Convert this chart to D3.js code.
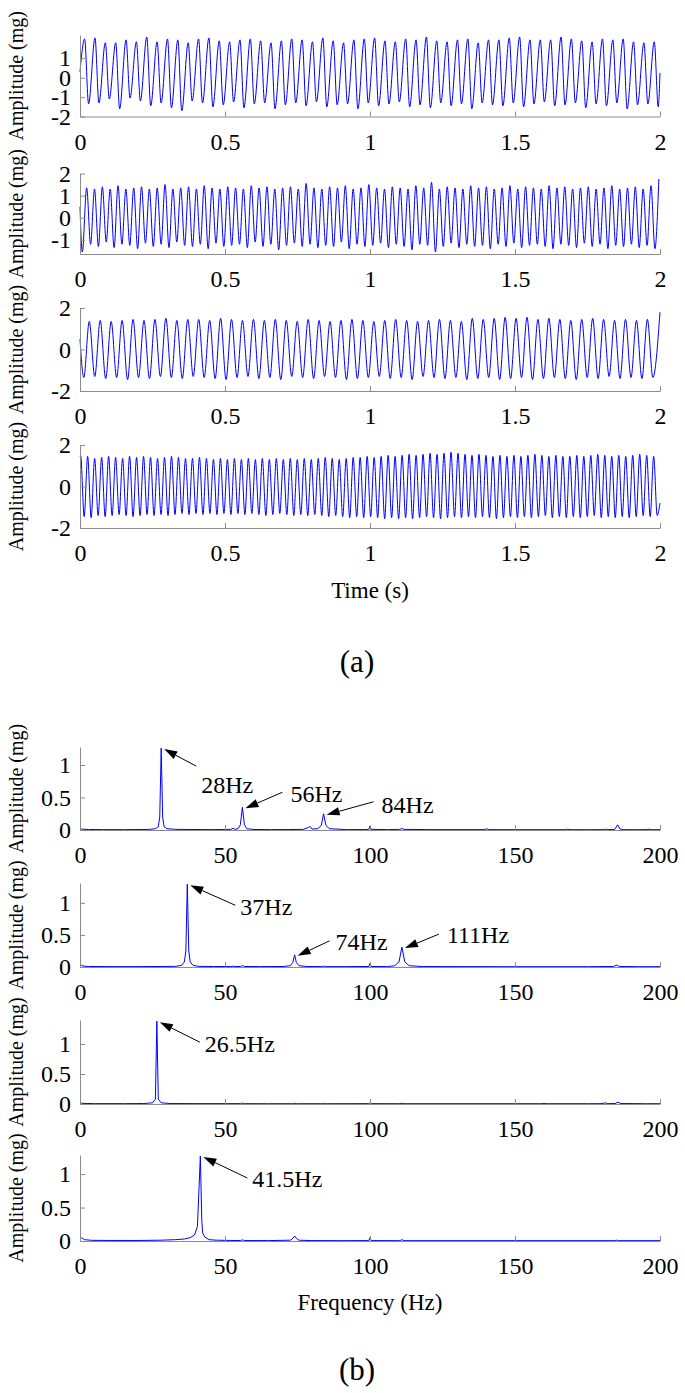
<!DOCTYPE html>
<html><head><meta charset="utf-8">
<script src="https://cdn.jsdelivr.net/npm/d3@7"></script>
<style>
body{margin:0;background:#fff}
svg{display:block}
text{font-family:"Liberation Serif","Times New Roman",serif;fill:#000}
</style>
</head><body>
<svg id="c" width="685" height="1393"></svg>
<script>
// ---------------- DATA ----------------
// time-domain signals: frequency (Hz), time of first peak (s), trough position relative to peak (in periods)
const sig1Freq = 28,   sig1T0 = 0.016,  sig1TroughFrac = 0.38;
const sig2Freq = 37,   sig2T0 = 0.023,  sig2TroughFrac = 0.5;
const sig3Freq = 26.5, sig3T0 = 0.032,  sig3TroughFrac = -0.5;
const sig4Freq = 41.5, sig4T0 = 0.0023, sig4TroughFrac = 0.5;

const sig1Peaks = [2.0,2.05,1.8,1.8,1.95,1.85,2.1,1.85, 2.0,1.95,1.8,2.0,2.05,1.9,1.85,1.95, 2.0,1.9,1.8,1.9,2.0,1.95,1.85,2.05,
  1.9,1.8,1.95,2.0,2.05,1.9,1.85,2.0, 1.95,2.1,1.9,1.85,1.95,2.0,1.8,1.95, 1.95,2.05,2.1,1.95,1.95,1.95,2.1,2.0, 1.9,1.85,2.0,1.95,2.0,1.85,1.8,1.85];
const sig1Troughs = [-1.35,-1.3,-1.1,-1.6,-1.05,-1.2,-1.45,-1.3, -1.55,-1.7,-1.2,-1.3,-1.5,-1.4,-1.25,-1.55, -1.35,-1.3,-1.6,-1.4,-1.3,-1.45,-1.25,-1.5,
  -1.4,-1.35,-1.6,-1.3,-1.45,-1.35,-1.25,-1.5, -1.4,-1.55,-1.3,-1.45,-1.35,-1.6,-1.3,-1.4, -1.45,-1.3,-1.5,-1.35,-1.25,-1.45,-1.4,-1.3, -1.55,-1.35,-1.45,-1.3,-1.6,-1.4,-1.35,-1.5];
const sig1Lead = [[0,0.3]], sig1Tail = [[2,0.25]];

const sig2Peaks = [1.35,1.3,1.4,1.3,1.45,1.3,1.35,1.4,1.3,1.35, 1.5,1.3,1.35,1.4,1.3,1.45,1.35,1.3,1.4,1.35, 1.3,1.45,1.35,1.4,1.3,1.35,1.4,1.3,1.55,1.35,
  1.3,1.4,1.35,1.45,1.3,1.35,1.5,1.35,1.3,1.4, 1.35,1.3,1.45,1.35,1.6,1.3,1.4,1.35,1.3,1.45, 1.35,1.4,1.3,1.35,1.45,1.3,1.4,1.35,1.3,1.45,
  1.35,1.4,1.3,1.35,1.4,1.3,1.35,1.45,1.3,1.35, 1.4,1.3,1.45,1.75];
const sig2Troughs = [-1.2,-1.3,-1.1,-1.35,-1.2,-1.25,-1.4,-1.15,-1.3,-1.2, -1.35,-1.1,-1.25,-1.3,-1.2,-1.4,-1.15,-1.3,-1.25,-1.2,
  -1.35,-1.1,-1.3,-1.2,-1.45,-1.25,-1.15,-1.3,-1.2,-1.35, -1.25,-1.3,-1.1,-1.4,-1.2,-1.3,-1.25,-1.15,-1.35,-1.2,
  -1.3,-1.45,-1.2,-1.25,-1.55,-1.3,-1.15,-1.35,-1.2,-1.3, -1.25,-1.4,-1.2,-1.3,-1.15,-1.35,-1.25,-1.2,-1.3,-1.4,
  -1.2,-1.25,-1.35,-1.15,-1.3,-1.2,-1.4,-1.25,-1.3,-1.2, -1.35,-1.25,-1.4];
const sig2Lead = [[0,0.5],[0.008,-1.55]], sig2Tail = [];

const sig3Peaks = [1.35,1.4,1.35,1.4,1.45,1.4,1.45,1.5,1.4,1.45, 1.45,1.4,1.5,1.45,1.4,1.45,1.4,1.45,1.4,1.35,
  1.45,1.4,1.35,1.4,1.45,1.4,1.35,1.4,1.45,1.4, 1.35,1.4,1.45,1.4,1.35,1.5,1.45,1.5,1.55,1.5, 1.55,1.45,1.5,1.45,1.4,1.45,1.5,1.45,1.4,1.45, 1.4,1.45];
const sig3Troughs = [-1.35,-1.3,-1.4,-1.35,-1.45,-1.35,-1.4,-1.3,-1.35,-1.4, -1.3,-1.35,-1.4,-1.45,-1.35,-1.3,-1.4,-1.35,-1.45,-1.3,
  -1.35,-1.4,-1.3,-1.35,-1.45,-1.4,-1.35,-1.3,-1.4,-1.35, -1.45,-1.3,-1.35,-1.4,-1.35,-1.45,-1.4,-1.35,-1.45,-1.4,
  -1.35,-1.45,-1.4,-1.35,-1.4,-1.45,-1.35,-1.4,-1.3,-1.4, -1.35,-1.4,-1.35];
const sig3Lead = [[0,0.5]], sig3Tail = [[2,1.8]];

const sig4Peaks = [1.5,1.45,1.35,1.4,1.45,1.4,1.35,1.45,1.4,1.45, 1.4,1.35,1.4,1.45,1.4,1.35,1.35,1.4,1.35,1.3,
  1.35,1.3,1.35,1.3,1.35,1.3,1.35,1.3,1.35,1.3, 1.35,1.3,1.35,1.3,1.35,1.4,1.35,1.3,1.35,1.4,
  1.4,1.45,1.4,1.45,1.5,1.45,1.5,1.55,1.5,1.55, 1.6,1.55,1.6,1.65,1.6,1.55,1.5,1.55,1.5,1.45,
  1.5,1.45,1.5,1.45,1.5,1.55,1.5,1.45,1.5,1.45, 1.45,1.5,1.45,1.5,1.55,1.5,1.45,1.5,1.45,1.5, 1.55,1.5,1.45];
const sig4Troughs = [-1.45,-1.5,-1.4,-1.45,-1.4,-1.35,-1.4,-1.45,-1.4,-1.35, -1.4,-1.35,-1.4,-1.35,-1.3,-1.35,-1.3,-1.35,-1.3,-1.35,
  -1.3,-1.35,-1.3,-1.35,-1.3,-1.35,-1.4,-1.35,-1.3,-1.35, -1.4,-1.35,-1.4,-1.35,-1.4,-1.45,-1.4,-1.45,-1.5,-1.45,
  -1.5,-1.45,-1.5,-1.55,-1.5,-1.55,-1.5,-1.55,-1.5,-1.45, -1.5,-1.55,-1.5,-1.45,-1.5,-1.45,-1.5,-1.45,-1.5,-1.55,
  -1.5,-1.45,-1.5,-1.45,-1.5,-1.45,-1.4,-1.5,-1.45,-1.5, -1.45,-1.5,-1.45,-1.4,-1.5,-1.45,-1.5,-1.45,-1.5,-1.45, -1.4,-1.45,-1.4];
const sig4Lead = [[0,1.45]], sig4Tail = [[2,-0.8]];

const timeTicksX = [0,0.5,1,1.5,2];
const sig1YTicks = [-2,-1,0,1];
const sig2YTicks = [-1,0,1,2];
const sig3YTicks = [-2,0,2];
const sig4YTicks = [-2,0,2];

// spectra: [frequency Hz, amplitude mg]
const spec1 = [[0,0.02],[1,0.012],[3,0.008],[8,0.006],[15,0.006],[20,0.007],[24,0.01],[26,0.02],[27,0.05],[27.5,0.2],[28,1.26],[28.5,0.2],[29,0.05],[30,0.02],[33,0.01],[40,0.007],[46,0.006],[50,0.008],[52,0.01],[52.8,0.025],[53.5,0.01],[54.5,0.02],[55.3,0.08],[56,0.35],[56.7,0.08],[57.5,0.02],[60,0.008],[66,0.006],[72,0.007],[77,0.01],[78.8,0.04],[79.4,0.055],[80,0.015],[82,0.02],[83.2,0.07],[84,0.25],[84.8,0.07],[86,0.02],[92,0.006],[98,0.007],[99.6,0.01],[100,0.06],[100.4,0.01],[106,0.006],[110.3,0.01],[111,0.022],[111.7,0.01],[120,0.006],[130,0.006],[139.3,0.006],[140.2,0.018],[141,0.006],[150,0.005],[160,0.005],[167.4,0.005],[168.2,0.012],[169,0.005],[176,0.005],[180.8,0.006],[181.4,0.014],[182,0.006],[184.4,0.01],[185.4,0.08],[186.2,0.015],[187.5,0.006],[192,0.005],[195.5,0.006],[196.2,0.012],[197,0.005],[200,0.005]];
const spec2 = [[0,0.04],[1,0.015],[3,0.008],[10,0.006],[20,0.006],[28,0.008],[33,0.01],[35,0.025],[36,0.08],[36.5,0.25],[37,1.29],[37.5,0.25],[38,0.08],[39,0.025],[41,0.01],[46,0.007],[50,0.008],[52,0.006],[52.8,0.014],[53.5,0.006],[55.3,0.008],[56,0.022],[56.7,0.008],[62,0.006],[70,0.008],[72.5,0.02],[73.4,0.07],[74,0.19],[74.6,0.07],[75.5,0.02],[78,0.008],[83.3,0.006],[84,0.014],[84.7,0.006],[92,0.006],[99.6,0.008],[100,0.055],[100.4,0.008],[106,0.006],[108.5,0.02],[110,0.08],[111,0.31],[112,0.08],[113.5,0.02],[118,0.007],[130,0.006],[148,0.005],[160,0.005],[175,0.005],[184,0.008],[185,0.03],[186,0.008],[193,0.005],[200,0.005]];
const spec3 = [[0,0.02],[1,0.01],[5,0.006],[15,0.006],[22,0.008],[25,0.02],[26,0.08],[26.5,1.38],[27,0.08],[28,0.02],[31,0.008],[40,0.006],[50,0.006],[55.3,0.006],[56,0.015],[56.7,0.006],[65,0.005],[73.3,0.005],[74,0.012],[74.7,0.005],[83.3,0.005],[84,0.01],[84.7,0.005],[99.6,0.006],[100,0.02],[100.4,0.006],[110.3,0.005],[111,0.012],[111.7,0.005],[130,0.005],[150,0.005],[159.3,0.005],[160,0.01],[160.7,0.005],[175,0.005],[180,0.006],[181,0.018],[182,0.006],[184.5,0.008],[185.5,0.03],[186.5,0.008],[195,0.005],[200,0.005]];
const spec4 = [[0,0.07],[0.5,0.05],[1.5,0.02],[4,0.01],[10,0.008],[20,0.008],[28,0.012],[33,0.02],[36,0.03],[38,0.05],[39.5,0.09],[40.5,0.22],[41.5,1.27],[42,0.3],[42.3,0.12],[43,0.06],[44.5,0.02],[47,0.012],[52,0.008],[55.3,0.007],[56,0.016],[56.7,0.007],[65,0.006],[72.5,0.012],[73.4,0.04],[74,0.075],[74.6,0.04],[75.5,0.012],[80,0.006],[90,0.005],[99.6,0.006],[100,0.05],[100.4,0.006],[110.3,0.005],[111,0.02],[111.7,0.005],[130,0.005],[150,0.005],[170,0.005],[184.3,0.005],[185,0.012],[185.7,0.005],[200,0.005]];

const freqTicksX = [0,50,100,150,200];
const specYTicks = [0,0.5,1];
const spec1YMax = 1.277, spec2YMax = 1.31, spec3YMax = 1.40, spec4YMax = 1.285;

// annotations: label, frequency of marked peak
const ann1Labels = ["28Hz","56Hz","84Hz"],  ann1Freqs = [28,56,84];
const ann2Labels = ["37Hz","74Hz","111Hz"], ann2Freqs = [37,74,111];
const ann3Labels = ["26.5Hz"],             ann3Freqs = [26.5];
const ann4Labels = ["41.5Hz"],             ann4Freqs = [41.5];

// ---------------- LAYOUT ----------------
const svg = d3.select("#c");
const XL = 80, XR = 660;
const AX = "#8c8c8c";
const tickFont = 24;

function buildWave(f, t0, frac, peaks, troughs, lead, tail){
  const pts = lead.slice();
  peaks.forEach((v,k)=>pts.push([t0 + k/f, v]));
  troughs.forEach((v,k)=>pts.push([t0 + (k+frac)/f, v]));
  tail.forEach(p=>pts.push(p));
  return pts.filter(p=>p[0]>=0 && p[0]<=2).sort((a,b)=>a[0]-b[0]);
}

function drawAxes(g, x, y, xt, yt){
  const ax = g.append("g").attr("transform",`translate(0,${y.range()[0]})`)
    .call(d3.axisBottom(x).tickValues(xt).tickSizeInner(-5).tickSizeOuter(0).tickPadding(16).tickFormat(d=>String(d)));
  const ay = g.append("g").attr("transform",`translate(${XL},0)`)
    .call(d3.axisLeft(y).tickValues(yt).tickSizeInner(-5).tickSizeOuter(0).tickPadding(9).tickFormat(d=>String(d)));
  [ax,ay].forEach(a=>{
    a.select(".domain").attr("stroke",AX).attr("stroke-width",1);
    a.selectAll(".tick line").attr("stroke",AX);
    a.selectAll("text").attr("font-size",tickFont).attr("font-family",'"Liberation Serif",serif').attr("fill","#000");
  });
}

function ylabel(top,bottom){
  svg.append("text").attr("transform",`translate(23,${(top+bottom)/2}) rotate(-90)`)
    .attr("text-anchor","middle").attr("font-size",20).text("Amplitude (mg)");
}

const timePanels = [
  {top:35,  bottom:116.5, dom:[-2,2.2],  yt:sig1YTicks, pts:buildWave(sig1Freq,sig1T0,sig1TroughFrac,sig1Peaks,sig1Troughs,sig1Lead,sig1Tail)},
  {top:173.5,bottom:254,  dom:[-1.64,2], yt:sig2YTicks, pts:buildWave(sig2Freq,sig2T0,sig2TroughFrac,sig2Peaks,sig2Troughs,sig2Lead,sig2Tail)},
  {top:308, bottom:391,   dom:[-2,2],    yt:sig3YTicks, pts:buildWave(sig3Freq,sig3T0,sig3TroughFrac,sig3Peaks,sig3Troughs,sig3Lead,sig3Tail)},
  {top:445, bottom:528,   dom:[-2,2],    yt:sig4YTicks, pts:buildWave(sig4Freq,sig4T0,sig4TroughFrac,sig4Peaks,sig4Troughs,sig4Lead,sig4Tail)}
];
const xt = d3.scaleLinear([0,2],[XL,XR]);
timePanels.forEach(p=>{
  const y = d3.scaleLinear(p.dom,[p.bottom,p.top]);
  const g = svg.append("g");
  ylabel(p.top,p.bottom);
  g.append("path").datum(p.pts)
    .attr("d",d3.line().x(d=>xt(d[0])).y(d=>y(d[1])).curve(d3.curveMonotoneX))
    .attr("fill","none").attr("stroke","#0000ff").attr("stroke-width",1);
  drawAxes(g, xt, y, timeTicksX, p.yt);
});
svg.append("text").attr("x",(XL+XR)/2).attr("y",598).attr("text-anchor","middle").attr("font-size",23).text("Time (s)");
svg.append("text").attr("x",357).attr("y",672).attr("text-anchor","middle").attr("font-size",31).text("(a)");

// frequency panels
const xf = d3.scaleLinear([0,200],[XL,XR]);
const specPanels = [
  {top:747, bottom:830,  ymax:spec1YMax, data:spec1, labels:ann1Labels, freqs:ann1Freqs,
    arrows:[{dx:32,dy:17,tx:5,ty:27},{dx:37,dy:-16,tx:8,ty:10},{dx:47,dy:-13,tx:8,ty:11}]},
  {top:883, bottom:967,  ymax:spec2YMax, data:spec2, labels:ann2Labels, freqs:ann2Freqs,
    arrows:[{dx:45,dy:20,tx:5,ty:10},{dx:32,dy:-15,tx:6,ty:9},{dx:34,dy:-14,tx:8,ty:9}]},
  {top:1020,bottom:1104, ymax:spec3YMax, data:spec3, labels:ann3Labels, freqs:ann3Freqs,
    arrows:[{dx:40,dy:20,tx:5,ty:10}]},
  {top:1155,bottom:1241, ymax:spec4YMax, data:spec4, labels:ann4Labels, freqs:ann4Freqs,
    arrows:[{dx:44,dy:21,tx:5,ty:9}]}
];
specPanels.forEach(p=>{
  const y = d3.scaleLinear([0,p.ymax],[p.bottom,p.top]);
  const g = svg.append("g");
  ylabel(p.top,p.bottom);
  g.append("path").datum(p.data)
    .attr("d",d3.line().x(d=>xf(d[0])).y(d=>y(d[1])))
    .attr("fill","none").attr("stroke","#0000ff").attr("stroke-width",1);
  drawAxes(g, xf, y, freqTicksX, specYTicks);
  p.labels.forEach((lab,i)=>{
    const f = p.freqs[i];
    const amp = d3.max(p.data.filter(d=>Math.abs(d[0]-f)<0.6), d=>d[1]);
    const a = p.arrows[i];
    const tipX = xf(f)+3, tipY = y(amp)+1;
    const tailX = tipX + a.dx, tailY = tipY + a.dy;
    const ang = Math.atan2(tipY-tailY, tipX-tailX);
    const L = 13, Wd = 4.2;
    const bx = tipX - L*Math.cos(ang), by = tipY - L*Math.sin(ang);
    g.append("line").attr("x1",tailX).attr("y1",tailY).attr("x2",bx).attr("y2",by)
      .attr("stroke","#000").attr("stroke-width",1);
    g.append("path").attr("d",`M${tipX},${tipY}L${bx+Wd*Math.sin(ang)},${by-Wd*Math.cos(ang)}L${bx-Wd*Math.sin(ang)},${by+Wd*Math.cos(ang)}Z`)
      .attr("fill","#000");
    g.append("text").attr("x",tailX+a.tx).attr("y",tailY+a.ty).attr("font-size",24).text(lab);
  });
});
svg.append("text").attr("x",(XL+XR)/2).attr("y",1310).attr("text-anchor","middle").attr("font-size",23).text("Frequency (Hz)");
svg.append("text").attr("x",357).attr("y",1380).attr("text-anchor","middle").attr("font-size",31).text("(b)");
</script>
</body></html>
